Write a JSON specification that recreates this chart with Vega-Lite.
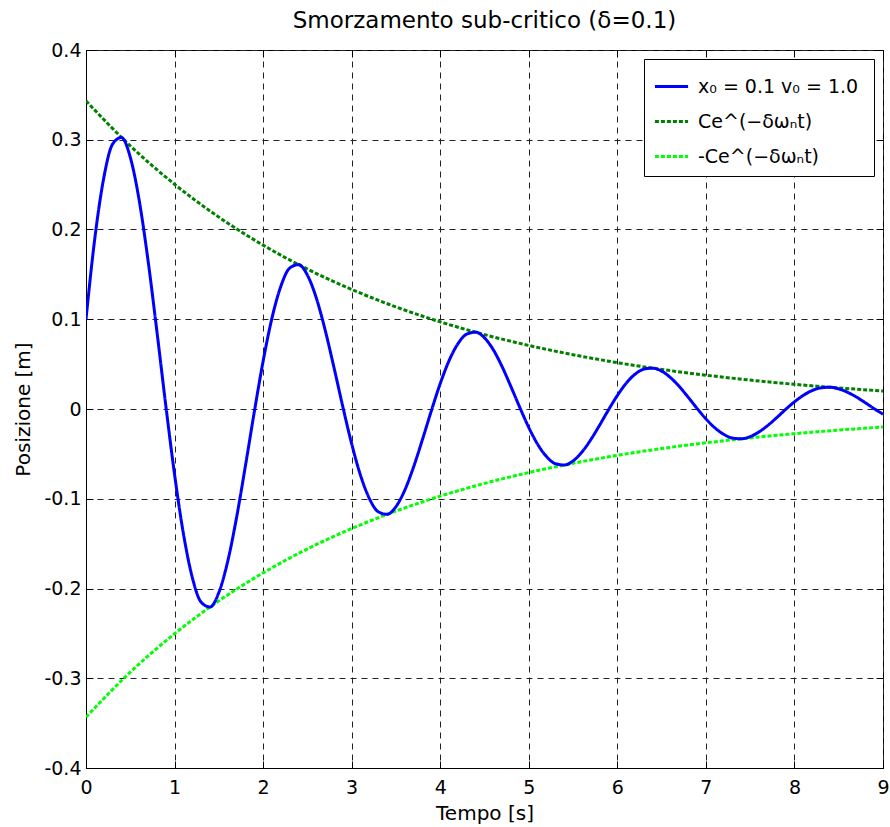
{
  "$schema": "https://vega.github.io/schema/vega-lite/v6.json",
  "autosize": "none",
  "width": 797,
  "height": 718,
  "padding": {"left": 86, "top": 50, "right": 7, "bottom": 59},
  "background": "white",
  "title": {"text": "Smorzamento sub-critico (δ=0.1)", "font": "DejaVu Sans", "fontSize": 23, "fontWeight": "normal", "color": "black", "offset": 8},
  "config": {
    "view": {"stroke": "black", "strokeWidth": 1},
    "font": "DejaVu Sans",
    "axis": {"labelFont": "DejaVu Sans", "labelFontSize": 19, "labelColor": "black", "labelFlush": false, "labelOverlap": false, "titleFont": "DejaVu Sans", "titleFontSize": 20, "titleFontWeight": "normal", "titleColor": "black", "domainColor": "black", "tickColor": "black", "tickSize": -7, "gridColor": "#222", "gridDash": [6, 5], "gridOpacity": 1, "gridWidth": 1}
  },
  "resolve": {"axis": {"x": "independent", "y": "independent"}},
  "datasets": {
    "osc": [
      {"t":0.0,"y":0.1000},{"t":0.1,"y":0.1905},{"t":0.2,"y":0.2571},{"t":0.3,"y":0.2951},{"t":0.4,"y":0.3025},{"t":0.5,"y":0.2805},{"t":0.6,"y":0.2329},{"t":0.7,"y":0.1659},{"t":0.8,"y":0.0871},{"t":0.9,"y":0.0048},
      {"t":1.0,"y":-0.0729},{"t":1.1,"y":-0.1389},{"t":1.2,"y":-0.1875},{"t":1.3,"y":-0.2152},{"t":1.4,"y":-0.2206},{"t":1.5,"y":-0.2045},{"t":1.6,"y":-0.1699},{"t":1.7,"y":-0.1210},{"t":1.8,"y":-0.0635},{"t":1.9,"y":-0.0035},
      {"t":2.0,"y":0.0532},{"t":2.1,"y":0.1013},{"t":2.2,"y":0.1367},{"t":2.3,"y":0.1570},{"t":2.4,"y":0.1609},{"t":2.5,"y":0.1492},{"t":2.6,"y":0.1239},{"t":2.7,"y":0.0882},{"t":2.8,"y":0.0463},{"t":2.9,"y":0.0026},
      {"t":3.0,"y":-0.0388},{"t":3.1,"y":-0.0739},{"t":3.2,"y":-0.0997},{"t":3.3,"y":-0.1145},{"t":3.4,"y":-0.1173},{"t":3.5,"y":-0.1088},{"t":3.6,"y":-0.0903},{"t":3.7,"y":-0.0643},{"t":3.8,"y":-0.0338},{"t":3.9,"y":-0.0019},
      {"t":4.0,"y":0.0283},{"t":4.1,"y":0.0539},{"t":4.2,"y":0.0727},{"t":4.3,"y":0.0835},{"t":4.4,"y":0.0856},{"t":4.5,"y":0.0793},{"t":4.6,"y":0.0659},{"t":4.7,"y":0.0469},{"t":4.8,"y":0.0246},{"t":4.9,"y":0.0014},
      {"t":5.0,"y":-0.0206},{"t":5.1,"y":-0.0393},{"t":5.2,"y":-0.0530},{"t":5.3,"y":-0.0609},{"t":5.4,"y":-0.0624},{"t":5.5,"y":-0.0579},{"t":5.6,"y":-0.0480},{"t":5.7,"y":-0.0342},{"t":5.8,"y":-0.0180},{"t":5.9,"y":-0.0010},
      {"t":6.0,"y":0.0150},{"t":6.1,"y":0.0287},{"t":6.2,"y":0.0387},{"t":6.3,"y":0.0444},{"t":6.4,"y":0.0455},{"t":6.5,"y":0.0422},{"t":6.6,"y":0.0350},{"t":6.7,"y":0.0250},{"t":6.8,"y":0.0131},{"t":6.9,"y":0.0007},
      {"t":7.0,"y":-0.0110},{"t":7.1,"y":-0.0209},{"t":7.2,"y":-0.0282},{"t":7.3,"y":-0.0324},{"t":7.4,"y":-0.0332},{"t":7.5,"y":-0.0308},{"t":7.6,"y":-0.0255},{"t":7.7,"y":-0.0182},{"t":7.8,"y":-0.0096},{"t":7.9,"y":-0.0005},
      {"t":8.0,"y":0.0080},{"t":8.1,"y":0.0152},{"t":8.2,"y":0.0206},{"t":8.3,"y":0.0236},{"t":8.4,"y":0.0242},{"t":8.5,"y":0.0224},{"t":8.6,"y":0.0186},{"t":8.7,"y":0.0133},{"t":8.8,"y":0.0070},{"t":8.9,"y":0.0004},
      {"t":9.0,"y":-0.0058}
    ],
    "env": [
      {"t":0.0,"up":0.3433,"lo":-0.3433},{"t":0.5,"up":0.2932,"lo":-0.2932},{"t":1.0,"up":0.2504,"lo":-0.2504},{"t":1.5,"up":0.2138,"lo":-0.2138},
      {"t":2.0,"up":0.1826,"lo":-0.1826},{"t":2.5,"up":0.1559,"lo":-0.1559},{"t":3.0,"up":0.1332,"lo":-0.1332},{"t":3.5,"up":0.1137,"lo":-0.1137},
      {"t":4.0,"up":0.0971,"lo":-0.0971},{"t":4.5,"up":0.0829,"lo":-0.0829},{"t":5.0,"up":0.0708,"lo":-0.0708},{"t":5.5,"up":0.0605,"lo":-0.0605},
      {"t":6.0,"up":0.0516,"lo":-0.0516},{"t":6.5,"up":0.0441,"lo":-0.0441},{"t":7.0,"up":0.0377,"lo":-0.0377},{"t":7.5,"up":0.0322,"lo":-0.0322},
      {"t":8.0,"up":0.0275,"lo":-0.0275},{"t":8.5,"up":0.0235,"lo":-0.0235},{"t":9.0,"up":0.0200,"lo":-0.0200}
    ]
  },
  "layer": [
    {
      "data": {"name": "env"},
      "transform": [{"fold": ["up", "lo"], "as": ["k", "y"]}, {"calculate": "datum.k == 'up' ? 'Ce^(−δωₙt)' : '-Ce^(−δωₙt)'", "as": "series"}],
      "mark": {"type": "line", "strokeWidth": 3, "interpolate": "monotone", "clip": true},
      "encoding": {
        "x": {"field": "t", "type": "quantitative", "scale": {"domain": [0, 9], "nice": false, "zero": false}, "axis": {"orient": "bottom", "title": "Tempo [s]", "values": [0,1,2,3,4,5,6,7,8,9], "labelExpr": "toString(datum.value)", "titlePadding": 6, "labelPadding": 17}},
        "y": {"field": "y", "type": "quantitative", "scale": {"domain": [-0.4, 0.4], "nice": false, "zero": false}, "axis": {"orient": "left", "title": "Posizione [m]", "values": [-0.4,-0.3,-0.2,-0.1,0,0.1,0.2,0.3,0.4], "labelExpr": "toString(round(datum.value*10)/10)", "titlePadding": 10, "labelPadding": 12}},
        "color": {"field": "series", "type": "nominal", "scale": {"domain": ["x₀ = 0.1  v₀ = 1.0", "Ce^(−δωₙt)", "-Ce^(−δωₙt)"], "range": ["#0000ff", "#008000", "#00ff00"]}, "legend": {"title": null, "orient": "top-right", "offset": 9, "strokeColor": "black", "fillColor": "white", "padding": 9, "labelFont": "DejaVu Sans", "labelFontSize": 19, "labelLimit": 400, "labelColor": "black", "symbolType": "stroke", "symbolSize": 1100, "symbolStrokeWidth": 3, "rowPadding": 6, "labelOffset": 8, "cornerRadius": 0}},
        "strokeDash": {"field": "series", "type": "nominal", "scale": {"domain": ["x₀ = 0.1  v₀ = 1.0", "Ce^(−δωₙt)", "-Ce^(−δωₙt)"], "range": [[1, 0], [4, 2], [4, 2]]}, "legend": {"title": null}}
      }
    },
    {
      "data": {"name": "osc"},
      "transform": [{"calculate": "'x₀ = 0.1  v₀ = 1.0'", "as": "series"}],
      "mark": {"type": "line", "strokeWidth": 3, "interpolate": "monotone", "clip": true},
      "encoding": {
        "x": {"field": "t", "type": "quantitative", "axis": {"orient": "top", "title": null, "labels": false, "grid": false, "domain": false, "values": [0,1,2,3,4,5,6,7,8,9]}},
        "y": {"field": "y", "type": "quantitative", "axis": {"orient": "right", "title": null, "labels": false, "grid": false, "domain": false, "values": [-0.4,-0.3,-0.2,-0.1,0,0.1,0.2,0.3,0.4]}},
        "color": {"field": "series", "type": "nominal"},
        "strokeDash": {"field": "series", "type": "nominal"}
      }
    }
  ]
}
